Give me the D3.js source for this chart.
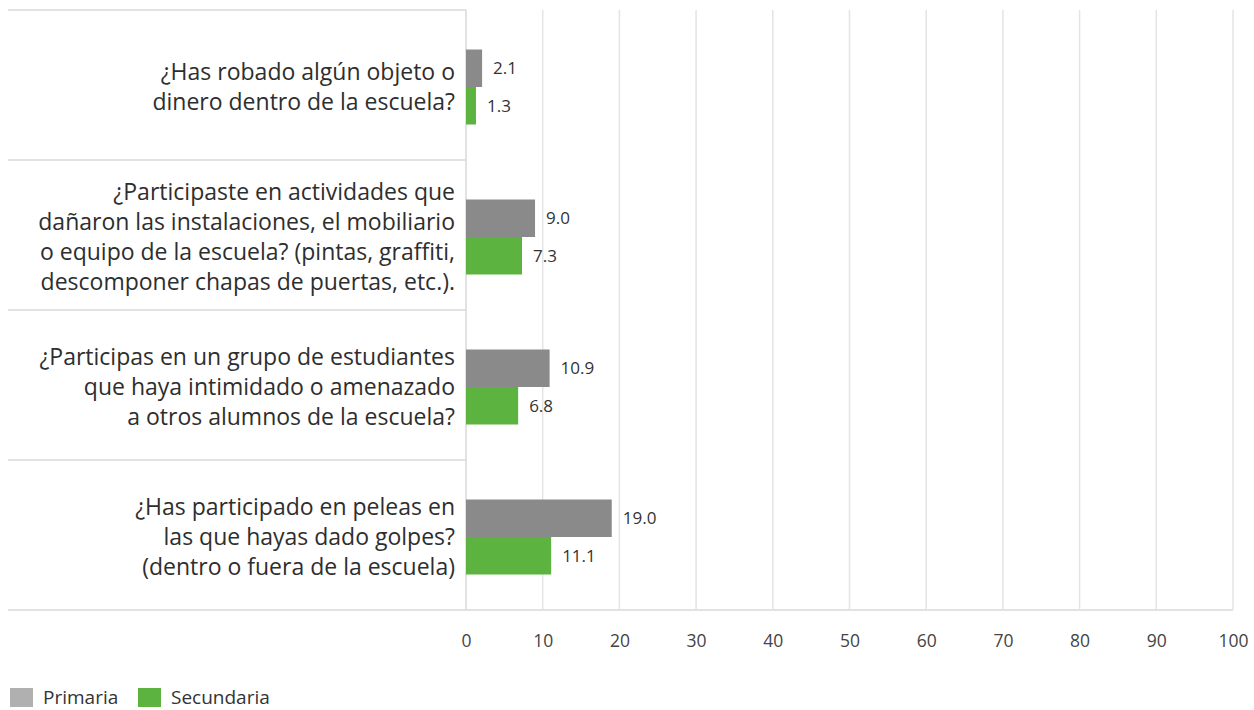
<!DOCTYPE html>
<html>
<head>
<meta charset="utf-8">
<script src="https://cdn.jsdelivr.net/npm/d3@7"></script>
<style>
  html, body { margin: 0; padding: 0; background: #fff; }
  svg { display: block; }
  text { font-family: "Open Sans", Lato, sans-serif; }
</style>
</head>
<body>
<svg id="chart" width="1254" height="710"></svg>
<script>
const categories = [
  ["¿Has robado algún objeto o", "dinero dentro de la escuela?"],
  ["¿Participaste en actividades que", "dañaron las instalaciones, el mobiliario", "o equipo de la escuela? (pintas, graffiti,", "descomponer chapas de puertas, etc.)."],
  ["¿Participas en un grupo de estudiantes", "que haya intimidado o amenazado", "a otros alumnos de la escuela?"],
  ["¿Has participado en peleas en", "las que hayas dado golpes?", "(dentro o fuera de la escuela)"]
];
const seriesNames = ["Primaria", "Secundaria"];
const primaria = [2.1, 9.0, 10.9, 19.0];
const secundaria = [1.3, 7.3, 6.8, 11.1];
const tickValues = [0, 10, 20, 30, 40, 50, 60, 70, 80, 90, 100];
const colors = ["#8a8a8a", "#5db33f"];

const svg = d3.select("#chart");
const x0 = 466, x1 = 1233, yTop = 10, yBot = 610, leftEdge = 8;

const x = d3.scaleLinear().domain([0, 100]).range([x0, x1]);
const y = d3.scaleBand().domain(d3.range(categories.length)).range([yTop, yBot]);
const sub = d3.scaleBand().domain([0, 1]).range([0, y.bandwidth()]).paddingOuter(1).paddingInner(0);

// vertical gridlines
svg.append("g").selectAll("line").data(tickValues.slice(1)).join("line")
  .attr("x1", d => x(d)).attr("x2", d => x(d))
  .attr("y1", yTop).attr("y2", yBot)
  .attr("stroke", "#e4e4e4").attr("stroke-width", 1.5);

// category separators
const seps = d3.range(categories.length + 1).map(i => i === categories.length ? yBot : y(i));
svg.append("g").selectAll("line").data(seps).join("line")
  .attr("x1", leftEdge).attr("x2", (d, i) => i === seps.length - 1 ? x1 : x0)
  .attr("y1", d => d).attr("y2", d => d)
  .attr("stroke", "#e2e2e2").attr("stroke-width", 2);

// zero axis line
svg.append("line").attr("x1", x0).attr("x2", x0).attr("y1", yTop).attr("y2", yBot)
  .attr("stroke", "#d8d8d8").attr("stroke-width", 1.5);

// bars
const series = [primaria, secundaria];
series.forEach((vals, s) => {
  const g = svg.append("g");
  g.selectAll("rect").data(vals).join("rect")
    .attr("x", x(0))
    .attr("y", (d, i) => y(i) + sub(s) + 2)
    .attr("width", d => x(d) - x(0))
    .attr("height", sub.bandwidth())
    .attr("fill", colors[s]);
  g.selectAll("text").data(vals).join("text")
    .attr("x", d => x(d) + 11)
    .attr("y", (d, i) => y(i) + sub(s) + 2 + sub.bandwidth() / 2)
    .attr("dy", "0.35em")
    .attr("font-size", 17)
    .attr("fill", "#333")
    .text(d => d.toFixed(1));
});

// category labels
const lineH = 30;
categories.forEach((lines, i) => {
  const cy = y(i) + y.bandwidth() / 2 + 2;
  const t = svg.append("text")
    .attr("text-anchor", "end")
    .attr("font-size", 23)
    .attr("fill", "#2e2e2e");
  lines.forEach((ln, j) => {
    t.append("tspan")
      .attr("x", 455)
      .attr("y", cy + (j - (lines.length - 1) / 2) * lineH)
      .attr("dy", "0.35em")
      .text(ln);
  });
});

// x axis tick labels
const axis = svg.append("g").attr("transform", `translate(0,${yBot})`)
  .call(d3.axisBottom(x).tickValues(tickValues).tickSize(0).tickPadding(25).tickFormat(d3.format("d")));
axis.select(".domain").remove();
axis.selectAll("text").attr("font-size", 17.5).attr("fill", "#444")
  .attr("font-family", "'Open Sans', Lato, sans-serif");

// legend
const legend = svg.append("g").attr("transform", "translate(10,688)");
const lx = [0, 128];
seriesNames.forEach((name, i) => {
  const g = legend.append("g").attr("transform", `translate(${lx[i]},0)`);
  g.append("rect").attr("width", 23).attr("height", 19)
    .attr("fill", i === 0 ? "#b0b0b0" : colors[1]);
  g.append("text").attr("x", 33).attr("y", 9.5).attr("dy", "0.35em")
    .attr("font-size", 19).attr("fill", "#333").text(name);
});
</script>
</body>
</html>
